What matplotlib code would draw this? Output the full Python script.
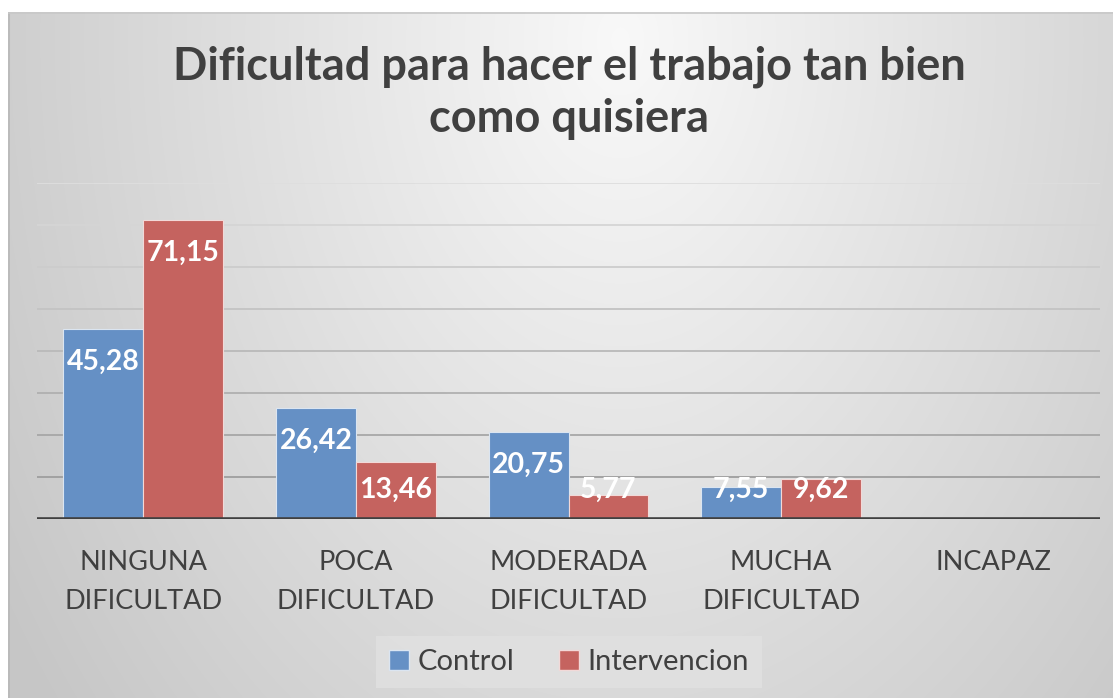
import numpy as np
import matplotlib
matplotlib.use("Agg")
import matplotlib.pyplot as plt
import matplotlib.transforms as mtransforms
from matplotlib.patches import Patch

# ---- data ----
categories = ["NINGUNA\nDIFICULTAD", "POCA\nDIFICULTAD", "MODERADA\nDIFICULTAD",
              "MUCHA\nDIFICULTAD", "INCAPAZ"]
control = [45.28, 26.42, 20.75, 7.55, None]
intervencion = [71.15, 13.46, 5.77, 9.62, None]
series_names = ["Control", "Intervencion"]
title = "Dificultad para hacer el trabajo tan bien\ncomo quisiera"
y_ticks = [0, 10, 20, 30, 40, 50, 60, 70, 80]

W, H = 1113, 698
FONT = "Lato"
plt.rcParams['font.family'] = [FONT, 'DejaVu Sans']

fig = plt.figure(figsize=(W / 100, H / 100), dpi=100)
fig.patch.set_facecolor("white")

def fx(px):
    return px / W

def fy(py):
    return 1 - py / H

# ---- background gradient (chart area) ----
bx0, by0 = 8, 12
bg = fig.add_axes([fx(bx0), 0, 1 - fx(bx0), fy(by0)])
bg.set_axis_off()
xs = np.arange(bx0, W)
ys = np.arange(by0, H)
X, Y = np.meshgrid(xs, ys)
r = np.sqrt(((X - 620) / 560.0) ** 2 + ((Y - 40) / 800.0) ** 2)
val = 0.975 - 0.15 * np.clip(r, 0, 1.3)
img = np.dstack([val, val, val])
bg.imshow(img, aspect="auto", extent=[0, 1, 0, 1], origin="upper", zorder=0)
bg.set_xlim(0, 1)
bg.set_ylim(0, 1)
bg.plot([0.0005, 0.0005], [0, 1], color="#b8b8b8", lw=1.2, zorder=2)
bg.plot([0, 1], [0.999, 0.999], color="#c8c8c8", lw=1.2, zorder=2)

# ---- main axes ----
px_left, px_right, px_top, px_bottom = 37, 1100, 183, 519
ax = fig.add_axes([fx(px_left), fy(px_bottom), fx(px_right - px_left),
                   (px_bottom - px_top) / H])
ax.set_facecolor("none")
ax.set_xlim(-0.5, len(categories) - 0.5)
ax.set_ylim(0, 80)
for s in ax.spines.values():
    s.set_visible(False)
ax.set_yticks([])
ax.set_xticks([])

top_c = np.array([0.87, 0.87, 0.87])
bot_c = np.array([0.62, 0.62, 0.62])
for t in y_ticks[1:]:
    f = (t - 10) / 70.0
    c = bot_c * (1 - f) + top_c * f
    ax.axhline(t, color=tuple(c), lw=1.3, zorder=1)
ax.axhline(0, color="#404040", lw=2.6, zorder=4)

x = np.arange(len(categories))
w = 0.376
blue = "#6590c5"
red = "#c5635f"
cv = [v if v is not None else 0 for v in control]
iv = [v if v is not None else 0 for v in intervencion]
ax.bar(x - w / 2, cv, w, color=blue, edgecolor="#dbe5f1", linewidth=0.8, zorder=3)
ax.bar(x + w / 2, iv, w, color=red, edgecolor="#f2d9d8", linewidth=0.8, zorder=3)

def lab(v):
    return f"{v:.2f}".replace(".", ",")

for xs_, vals in ((x - w / 2, control), (x + w / 2, intervencion)):
    for xi, v in zip(xs_, vals):
        if v is None:
            continue
        ax.text(xi, max(v - 7.9, 6.9), lab(v), ha="center", va="center",
                color="white", fontsize=20.5, fontweight="bold", zorder=5)

# category labels
off = mtransforms.ScaledTranslation(0, -31 / 100, fig.dpi_scale_trans)
for xi, c in zip(x, categories):
    ax.text(xi, 0, c, transform=ax.transData + off, ha="center", va="top",
            fontsize=19.5, color="#404040", linespacing=1.72)

# title
fig.text(fx(569), fy(93), title, ha="center", va="center", fontsize=32.5,
         fontweight="bold", color="#404040", linespacing=1.3)

# legend
handles = [Patch(facecolor=blue, edgecolor="#dbe5f1"),
           Patch(facecolor=red, edgecolor="#f2d9d8")]
leg = fig.legend(handles, series_names, loc="center",
                 bbox_to_anchor=(fx(569), fy(662)), ncol=2, frameon=True,
                 fontsize=21, handlelength=0.7, handleheight=0.7,
                 handletextpad=0.3, columnspacing=1.5, borderpad=0.45,
                 borderaxespad=0, fancybox=False)
leg.get_frame().set_facecolor("#e1e1e1")
leg.get_frame().set_edgecolor("none")
for t in leg.get_texts():
    t.set_color("#404040")

fig.savefig("out.png", dpi=100)
